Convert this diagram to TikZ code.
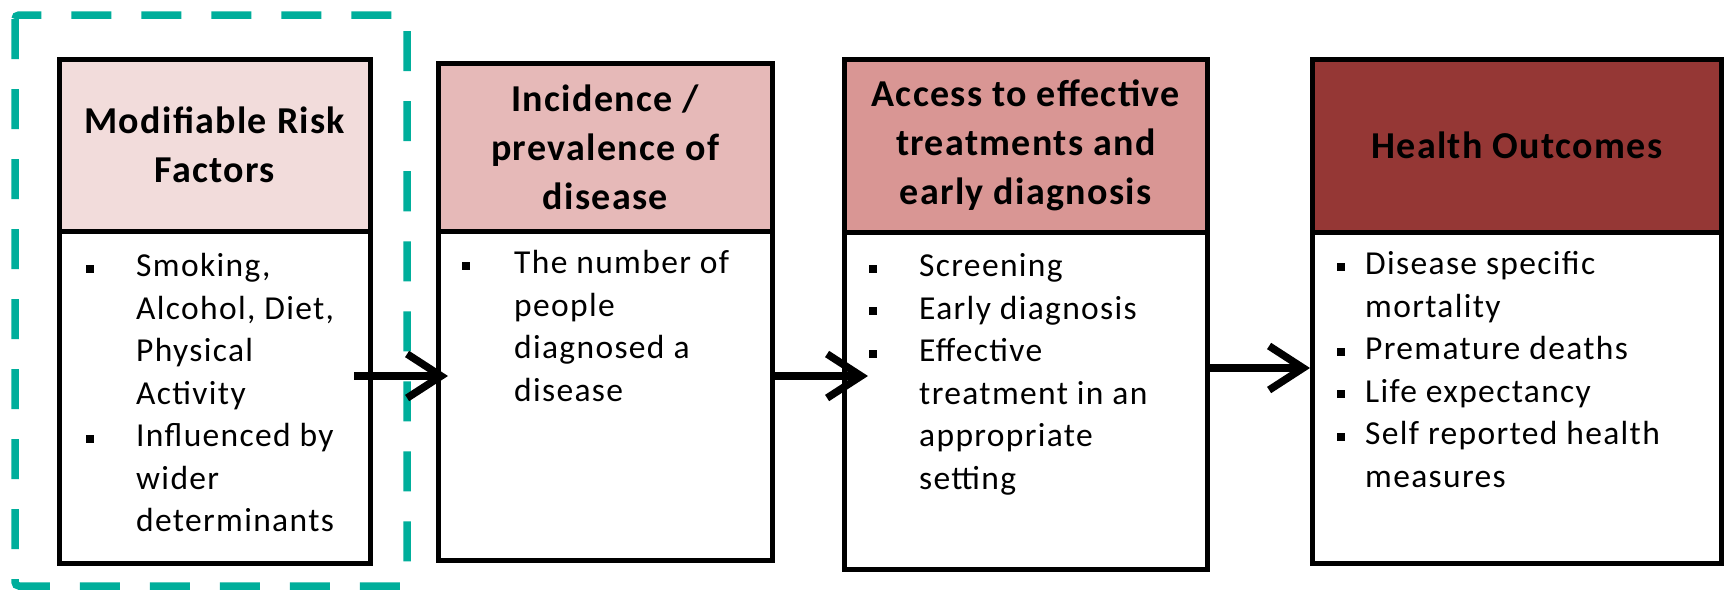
\documentclass[tikz,border=0pt]{standalone}
\usepackage{fontspec}
\setmainfont{Carlito}
\usetikzlibrary{arrows.meta}
\definecolor{hA}{HTML}{F2DCDB}
\definecolor{hB}{HTML}{E6B9B8}
\definecolor{hC}{HTML}{D99694}
\definecolor{hD}{HTML}{953735}
\definecolor{tealdash}{HTML}{00AE9B}
\newfontfamily\bodyfont[LetterSpace=4]{Carlito}
\newfontfamily\hdrfont[LetterSpace=3.5]{Carlito}
\newcommand\bul{\rule[4pt]{8pt}{8pt}}
\begin{document}
\begin{tikzpicture}[x=1pt,y=-1pt,
  frame/.style={draw=black, line width=4.5pt, rectangle, anchor=north west, inner sep=0pt},
  hdr/.style={frame, align=center, font=\hdrfont\fontsize{38}{49}\selectfont\bfseries},
  bodytext/.style={anchor=north west, inner sep=0pt, font=\bodyfont\fontsize{33.5}{42.5}\selectfont},
  arr/.style={line width=7.5pt, -{Straight Barb[length=34pt,width=44pt]}},
  dashbox/.style={draw=tealdash, line width=7.5pt, dash pattern=on 40pt off 30pt, rounded corners=4pt}]
\useasboundingbox[fill=white] (0,0) rectangle (1733,592);
% dashed frame
\draw[dashbox] (15,15) rectangle (407,586);
% box 1
\node[hdr, fill=hA, minimum width=311pt, minimum height=172pt] (h1) at (57,57) {Modifiable Risk\\Factors};
\node[frame, minimum width=311pt, minimum height=332pt] (b1) at (57,229) {};
\node[bodytext] (t1) at ([xshift=29pt,yshift=-18pt]b1.north west) {\begin{tabular}{@{}p{50pt}@{}l@{}}
\bul & Smoking,\\ & Alcohol, Diet,\\ & Physical\\ & Activity\\
\bul & Influenced by\\ & wider\\ & determinants\end{tabular}};
% box 2
\node[hdr, fill=hB, minimum width=334pt, minimum height=168pt] (h2) at (436,61) {Incidence /\\prevalence of\\disease};
\node[frame, minimum width=334pt, minimum height=329pt] (b2) at (436,229) {};
\node[bodytext] (t2) at ([xshift=26pt,yshift=-15pt]b2.north west) {\begin{tabular}{@{}p{52pt}@{}l@{}}
\bul & The number of\\ & people\\ & diagnosed a\\ & disease\end{tabular}};
% box 3
\node[hdr, fill=hC, minimum width=363pt, minimum height=173pt] (h3) at (842,57) {Access to effective\\treatments and\\early diagnosis};
\node[frame, minimum width=363pt, minimum height=337pt] (b3) at (842,230) {};
\node[bodytext] (t3) at ([xshift=27pt,yshift=-17pt]b3.north west) {\begin{tabular}{@{}p{50pt}@{}l@{}}
\bul & Screening\\ \bul & Early diagnosis\\ \bul & Effective\\ & treatment in an\\ & appropriate\\ & setting\end{tabular}};
% box 4
\node[hdr, fill=hD, minimum width=409pt, minimum height=173pt] (h4) at (1310,57) {Health Outcomes};
\node[frame, minimum width=409pt, minimum height=331pt] (b4) at (1310,230) {};
\node[bodytext] (t4) at ([xshift=27pt,yshift=-15pt]b4.north west) {\begin{tabular}{@{}p{28pt}@{}l@{}}
\bul & Disease specific\\ & mortality\\ \bul & Premature deaths\\ \bul & Life expectancy\\ \bul & Self reported health\\ & measures\end{tabular}};
% arrows
\coordinate (a1) at (354,376);
\coordinate (a2) at (770,376);
\coordinate (a3) at (1210,368);
\draw[arr] (a1) -- ([xshift=12pt]b2.west |- a1);
\draw[arr] (a2) -- ([xshift=26pt]b3.west |- a2);
\draw[arr] (a3) -- (b4.west |- a3);
\end{tikzpicture}
\end{document}
